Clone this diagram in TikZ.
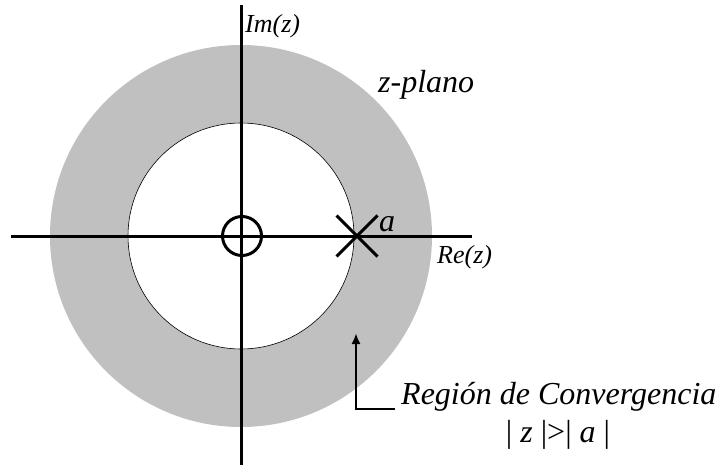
\documentclass[tikz,border=0pt]{standalone}
\usepackage{fontspec}
\setmainfont{Liberation Serif}
\usetikzlibrary{arrows.meta,shapes.misc}
\definecolor{rocgray}{RGB}{192,192,192}
\begin{document}
\begin{tikzpicture}[
x=1pt, y=-1pt,
axis/.style={line width=3pt},
biglabel/.style={inner sep=0pt, font=\fontsize{32}{36}\selectfont\itshape},
smalllabel/.style={inner sep=0pt, font=\fontsize{26}{30}\selectfont\itshape},
arrow/.style={-{Latex[length=11pt,width=9pt]}, line width=2.6pt}
]
\useasboundingbox (0,0) rectangle (720,465);

% region of convergence
\coordinate (origin) at (241,236);
\fill[rocgray] (origin) circle[radius=191];
\filldraw[fill=white, draw=black, line width=0.6pt] (origin) circle[radius=113];

% axes
\coordinate (xleft) at (11,236);
\coordinate (xright) at (472,236);
\coordinate (ytop) at (241,5);
\coordinate (ybot) at (241,465);
\draw[axis] (xleft) -- (xright);
\draw[axis] (ytop) -- (ybot);

% zero and pole
\node (zero) [draw, circle, minimum size=39pt, inner sep=0pt, line width=3pt] at (242,236) {};
\node (pole) [draw, cross out, minimum size=38pt, inner sep=0pt, line width=3pt] at (357,236) {};

\node (polelabel) [biglabel, anchor=base west] at (379,231) {a};
\node (imlabel) [smalllabel, anchor=base west] at (245,33) {Im(z)};
\node (relabel) [smalllabel, anchor=base west] at (437,263) {Re(z)};
\node (plane) [biglabel, anchor=base west] at (378,93) {z-plano};

\node (roc) [biglabel, anchor=base west] at (401,404) {Región de Convergencia};
\node (cond) [biglabel, anchor=base] at (558,442) {{\upshape|}~z~{\upshape|>|}~a~{\upshape|}};

\coordinate (roctip) at (356,333);
\draw[arrow] ([xshift=-6pt,yshift=-5pt]roc.base west) -| (roctip);

\end{tikzpicture}
\end{document}
